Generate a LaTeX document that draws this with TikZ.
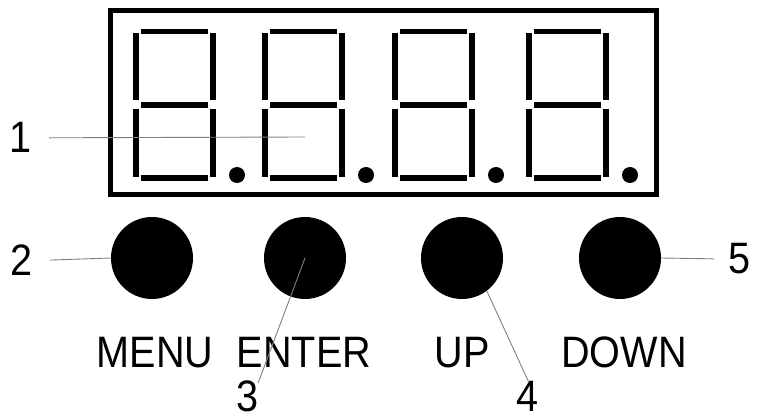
\documentclass[tikz,border=0pt]{standalone}
\usepackage{fontspec}
\setmainfont{Liberation Sans}[FakeStretch=0.9]
\begin{document}
\begin{tikzpicture}[x=1pt, y=-1pt, font=\fontsize{44}{48}\selectfont,
	seg/.style={line width=5.5pt},
	key/.style={circle, fill=black, minimum size=82pt, inner sep=0pt},
	num/.style={inner sep=0pt, anchor=base},
	lead/.style={gray, line width=0.9pt}]
	\useasboundingbox (0,0) rectangle (757,419);
	% display
	\draw[line width=5pt] (110,11) rectangle (656,195);
	\foreach \d in {136,265,395,529} {
		\draw[seg] (\d+5,31.5) -- (\d+72,31.5) (\d+5,105) -- (\d+72,105) (\d+5,178) -- (\d+72,178);
		\draw[seg] (\d,33) -- (\d,100) (\d,109) -- (\d,177) (\d+77,33) -- (\d+77,100) (\d+77,109) -- (\d+77,177);
		\fill (\d+101,175) circle (8pt);
	}
	% keys
	\node[key] (menukey) at (152,258) {};
	\node[key] (enterkey) at (305,258) {};
	\node[key] (upkey) at (462,258) {};
	\node[key] (downkey) at (620,258) {};
	\node[anchor=base] (menu) at (155,367) {MENU};
	\node[anchor=base] (enter) at (304,367) {ENTER};
	\node[anchor=base] (up) at (462,367) {UP};
	\node[anchor=base] (down) at (624,367) {DOWN};
	% callouts
	\node[num] (n1) at (21,153) {1};
	\node[num] (n2) at (22,276) {2};
	\node[num] (n3) at (248,411) {3};
	\node[num] (n4) at (528,411) {4};
	\node[num] (n5) at (740,274) {5};
	\coordinate (p1) at (305,137);
	\draw[lead, shorten <=17pt] (n1.east) -- (p1);
	\draw[lead, shorten <=17pt] (n2.east) -- (menukey.west);
	\draw[lead, shorten <=-3pt] (n3.north east) -- (enterkey.center);
	\draw[lead, shorten <=-2pt] (n4.north) -- (upkey.-53);
	\draw[lead, shorten <=15pt] (n5.west) -- (downkey.east);
\end{tikzpicture}
\end{document}
